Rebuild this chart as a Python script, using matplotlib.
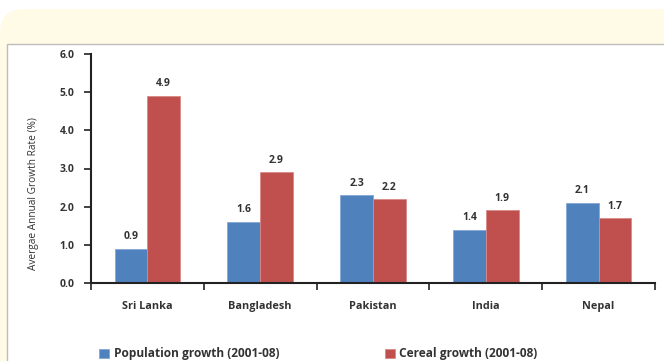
import matplotlib.pyplot as plt
import numpy as np
from matplotlib.patches import FancyBboxPatch, Rectangle

# Growth rates by country, 2001-08
countries = ['Sri Lanka', 'Bangladesh', 'Pakistan', 'India', 'Nepal']
population_growth = [0.9, 1.6, 2.3, 1.4, 2.1]
cereal_growth = [4.9, 2.9, 2.2, 1.9, 1.7]
yticks = [0.0, 1.0, 2.0, 3.0, 4.0, 5.0, 6.0]

BLUE = '#4F81BD'
RED = '#C0504D'
TXT = '#333333'

plt.rcParams['font.family'] = ['Open Sans', 'DejaVu Sans']

fig = plt.figure(figsize=(6.64, 3.61), dpi=100)
fig.patch.set_facecolor('white')
inch = fig.dpi_scale_trans

# cream card behind a white panel
fig.patches.append(FancyBboxPatch((0.0, -0.4), 6.9, 3.52 + 0.4,
                                  boxstyle='round,pad=0,rounding_size=0.24',
                                  transform=inch, facecolor='#FFFBE6',
                                  edgecolor='none', zorder=0))
fig.patches.append(Rectangle((0.07, -0.2), 6.9, 3.17 + 0.2, transform=inch,
                             facecolor='white', edgecolor='#BDBDBD',
                             linewidth=1.0, zorder=1))

ax = fig.add_axes([91 / 664, 1 - 283 / 361, (655 - 91) / 664, (283 - 54) / 361])
ax.set_zorder(2)
ax.patch.set_alpha(0)

x = np.arange(len(countries))
w = 0.29
b1 = ax.bar(x - w / 2, population_growth, w, color=BLUE, edgecolor='#85A7D6',
            linewidth=0.6, label='Population growth (2001-08)')
b2 = ax.bar(x + w / 2, cereal_growth, w, color=RED, edgecolor='#DA8A86',
            linewidth=0.6, label='Cereal growth (2001-08)')

for bars, vals in [(b1, population_growth), (b2, cereal_growth)]:
    for bar, v in zip(bars, vals):
        ax.text(bar.get_x() + bar.get_width() / 2, v + 0.17, f'{v:.1f}',
                ha='center', va='bottom', fontsize=7.5, fontweight='bold',
                color=TXT)

ax.set_xlim(-0.5, len(countries) - 0.5)
ax.set_ylim(0, 6)
ax.set_yticks(yticks)
ax.set_yticklabels([f'{t:.1f}' for t in yticks], fontsize=7.5,
                   fontweight='bold', color=TXT)
ax.set_xticks(x)
ax.set_xticklabels(countries, fontsize=7.8, fontweight='bold', color=TXT)
ax.set_xticks(np.arange(-0.5, len(countries)), minor=True)
ax.tick_params(axis='x', which='major', length=0, pad=13)
ax.tick_params(axis='x', which='minor', length=5, width=1.2, direction='out',
               color='#222222')
ax.tick_params(axis='y', length=5, width=1.2, direction='out', pad=7,
               color='#222222')

for s in ['top', 'right']:
    ax.spines[s].set_visible(False)
for s in ['left', 'bottom']:
    ax.spines[s].set_linewidth(1.5)
    ax.spines[s].set_color('#222222')

ax.set_ylabel('Avergae Annual Growth Rate (%)', fontsize=7.3, color=TXT)
ax.yaxis.set_label_coords(-52 / 564, (283 - 194) / 229)

leg = fig.legend(handles=[b1, b2], loc='center left', ncol=2,
                 bbox_to_anchor=(93 / 664, 1 - 354 / 361), frameon=False,
                 prop={'size': 8.6, 'weight': 'bold'}, handlelength=0.85,
                 handleheight=0.85, handletextpad=0.4, columnspacing=8.8,
                 borderpad=0)
for t in leg.get_texts():
    t.set_color(TXT)

fig.savefig('out.png', dpi=100)
